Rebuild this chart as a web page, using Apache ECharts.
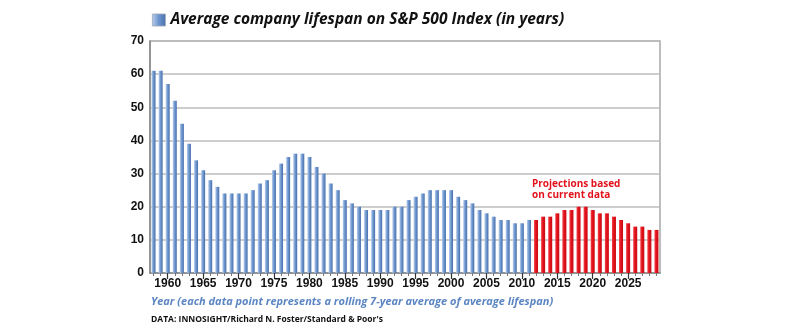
<!DOCTYPE html>
<html>
<head>
<meta charset="utf-8">
<script src="https://cdn.jsdelivr.net/npm/echarts@6/dist/echarts.min.js"></script>
<style>
html,body{margin:0;padding:0;background:#fff;}
#chart{width:800px;height:330px;}
</style>
</head>
<body>
<div id="chart"></div>
<script>
// Years 1958..2029
const years = [];
for (let y = 1958; y <= 2029; y++) years.push(String(y));

// Average lifespan (rolling 7-year average)
const lifespan = [
  61, 61, 57, 52, 45, 39, 34, 31, 28, 26,   // 1958-1967
  24, 24, 24, 24, 25, 27, 28, 31, 33, 35,   // 1968-1977
  36, 36, 35, 32, 30, 27, 25, 22, 21, 20,   // 1978-1987
  19, 19, 19, 19, 20, 20, 22, 23, 24, 25,   // 1988-1997
  25, 25, 25, 23, 22, 21, 19, 18, 17, 16,   // 1998-2007
  16, 15, 15, 16,                           // 2008-2011
  16, 17, 17, 18, 19, 19, 20, 20, 19, 18,   // 2012-2021 (projection)
  18, 17, 16, 15, 14, 14, 13, 13            // 2022-2029 (projection)
];
const projectionStartYear = 2012;

const yTicks = { min: 0, max: 70, interval: 10 };

const titleText = 'Average company lifespan on S&P 500 Index (in years)';
const projectionLabel = 'Projections based\non current data';
const xAxisNote = 'Year (each data point represents a rolling 7-year average of average lifespan)';
const sourceNote = "DATA: INNOSIGHT/Richard N. Foster/Standard & Poor's";

const blueGrad = new echarts.graphic.LinearGradient(0, 0, 1, 0, [
  { offset: 0, color: '#bcd0ec' },
  { offset: 0.45, color: '#7299d0' },
  { offset: 1, color: '#4670ad' }
]);
const redGrad = new echarts.graphic.LinearGradient(0, 0, 1, 0, [
  { offset: 0, color: '#f2454c' },
  { offset: 0.45, color: '#e3121c' },
  { offset: 1, color: '#c80a12' }
]);

const barData = lifespan.map((v, i) => {
  const yr = Number(years[i]);
  if (yr >= projectionStartYear) {
    return { value: v, itemStyle: { color: redGrad } };
  }
  return v;
});

const isMajor = (idx, val) => Number(val) % 5 === 0;

const chart = echarts.init(document.getElementById('chart'), null, { renderer: 'canvas' });
chart.setOption({
  animation: false,
  backgroundColor: '#ffffff',
  legend: {
    left: 147, top: 7,
    itemWidth: 13, itemHeight: 12,
    icon: 'rect',
    itemGap: 5,
    data: [titleText],
    itemStyle: { borderColor: '#9aa6b8', borderWidth: 0.8 },
    textStyle: {
      fontFamily: 'Open Sans', fontWeight: 'bold', fontStyle: 'italic',
      fontSize: 15.5, color: '#111'
    }
  },
  grid: {
    left: 150, right: 140, top: 41, bottom: 57,
    show: true, borderColor: '#a8a8a8', borderWidth: 1.5,
    backgroundColor: 'transparent'
  },
  xAxis: [{
    type: 'category',
    data: years,
    boundaryGap: true,
    axisLine: { lineStyle: { color: '#888', width: 1.5 } },
    axisTick: { show: true, interval: 0, alignWithLabel: true, length: 3, lineStyle: { color: '#777' } },
    axisLabel: {
      interval: isMajor, margin: 5,
      fontFamily: 'Liberation Sans', fontWeight: 'bold', fontSize: 12, color: '#111'
    }
  }, {
    type: 'category',
    data: years,
    position: 'bottom',
    boundaryGap: true,
    axisLine: { show: false },
    axisTick: { show: true, interval: isMajor, alignWithLabel: true, length: 6, lineStyle: { color: '#333', width: 1.2 } },
    axisLabel: { show: false }
  }],
  yAxis: {
    type: 'value',
    min: yTicks.min, max: yTicks.max, interval: yTicks.interval,
    axisLine: { show: true, lineStyle: { color: '#888', width: 1.5 } },
    axisTick: { show: false },
    splitLine: { lineStyle: { color: '#bcbcbc', width: 1.5 } },
    axisLabel: {
      margin: 6,
      fontFamily: 'Liberation Sans', fontWeight: 'bold', fontSize: 12, color: '#111'
    }
  },
  series: [{
    name: titleText,
    type: 'bar',
    xAxisIndex: 0,
    data: barData,
    barWidth: 4,
    itemStyle: { color: blueGrad }
  }],
  graphic: [{
    type: 'text',
    left: 532, top: 179,
    style: {
      text: projectionLabel,
      fontFamily: 'Open Sans', fontWeight: 'bold', fontSize: 10,
      lineHeight: 10.5, fill: '#e3121c'
    }
  }, {
    type: 'text',
    left: 151, top: 296,
    style: {
      text: xAxisNote,
      fontFamily: 'Open Sans', fontWeight: 'bold', fontStyle: 'italic', fontSize: 11,
      fill: '#5b86c3'
    }
  }, {
    type: 'text',
    left: 151, top: 315,
    style: {
      text: sourceNote,
      fontFamily: 'Open Sans', fontWeight: 'bold', fontSize: 8.5,
      fill: '#111'
    }
  }]
});
</script>
</body>
</html>
